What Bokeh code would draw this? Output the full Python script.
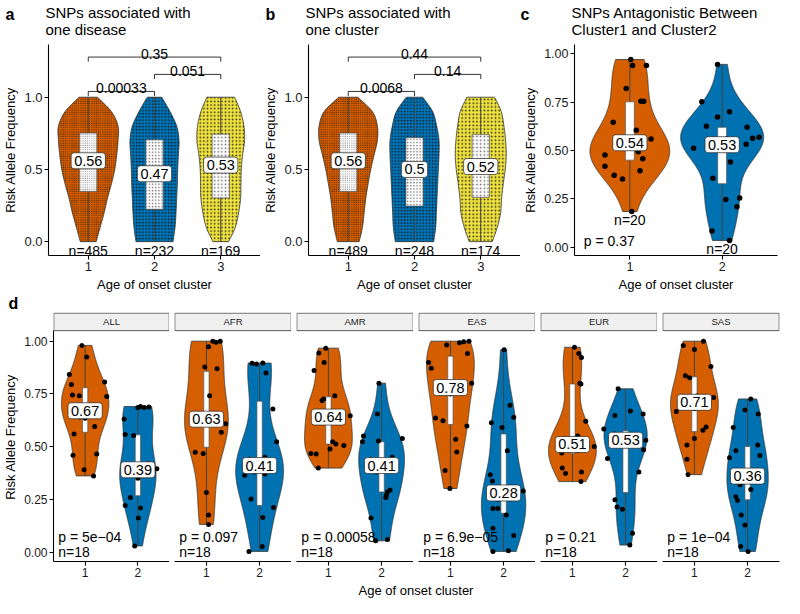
import numpy as np
from bokeh.plotting import figure
from bokeh.models import Label, Range1d, FixedTicker
from bokeh.layouts import column, row
from bokeh.embed import file_html
from bokeh.resources import INLINE

FONT = "Liberation Sans"
GROUP_COLORS = ["#D55E00", "#0072B2", "#F0E442"]
INK = "#1a1a1a"
EDGE = "#333333"

# ---------------- data: panels a / b ----------------
clusters_ab = [1, 2, 3]
cluster_tick_labels_ab = ["1", "2", "3"]
ab_levels = [0.0, 0.1, 0.2, 0.3, 0.4, 0.5, 0.6, 0.7, 0.8, 0.9, 1.0]
ab_ticks = [0.0, 0.5, 1.0]
ab_tick_labels = ["0.0", "0.5", "1.0"]

a_halfwidth_c1 = [0.12, 0.18, 0.24, 0.29, 0.35, 0.40, 0.43, 0.45, 0.45, 0.35, 0.14]
a_halfwidth_c2 = [0.28, 0.31, 0.325, 0.335, 0.345, 0.35, 0.36, 0.37, 0.335, 0.235, 0.11]
a_halfwidth_c3 = [0.12, 0.22, 0.27, 0.30, 0.305, 0.31, 0.33, 0.36, 0.35, 0.30, 0.21]
a_n = [485, 232, 169]
a_medians = ["0.56", "0.47", "0.53"]
a_box_lo = [0.348, 0.224, 0.303]
a_box_hi = [0.752, 0.705, 0.744]
a_pairs = [(1, 2), (2, 3), (1, 3)]
a_pvals = ["0.00033", "0.051", "0.35"]
a_bracket_y = [1.04, 1.158, 1.278]

b_halfwidth_c1 = [0.165, 0.215, 0.24, 0.265, 0.30, 0.34, 0.39, 0.44, 0.44, 0.365, 0.145]
b_halfwidth_c2 = [0.29, 0.32, 0.33, 0.34, 0.35, 0.36, 0.37, 0.37, 0.335, 0.275, 0.125]
b_halfwidth_c3 = [0.175, 0.25, 0.30, 0.315, 0.34, 0.37, 0.385, 0.375, 0.35, 0.31, 0.21]
b_n = [489, 248, 174]
b_medians = ["0.56", "0.5", "0.52"]
b_box_lo = [0.348, 0.246, 0.306]
b_box_hi = [0.752, 0.72, 0.741]
b_pairs = [(1, 2), (2, 3), (1, 3)]
b_pvals = ["0.0068", "0.14", "0.44"]
b_bracket_y = [1.04, 1.158, 1.278]

panel_letters = ["a", "b", "c", "d"]
panel_titles = ["SNPs associated with\none disease",
                "SNPs associated with\none cluster",
                "SNPs Antagonistic Between\nCluster1 and Cluster2"]

# ---------------- data: panel c ----------------
clusters_cd = [1, 2]
cluster_tick_labels_cd = ["1", "2"]
cd_ticks = [0.0, 0.25, 0.5, 0.75, 1.0]
cd_tick_labels = ["0.00", "0.25", "0.50", "0.75", "1.00"]

c_values_c1 = [0.971, 0.940, 0.940, 0.821, 0.755, 0.755, 0.646, 0.605, 0.560, 0.494,
               0.476, 0.457, 0.418, 0.395, 0.372, 0.352, 0.184, 0.52, 0.53, 0.55]
c_jitter_c1 = [0.01, 0.03, 0.18, -0.04, 0.12, 0.15, -0.18, 0.07, 0.23, 0.09,
               -0.27, 0.14, -0.27, 0.11, -0.17, -0.08, 0.02, -0.05, 0.05, 0.0]
c_values_c2 = [0.946, 0.752, 0.674, 0.700, 0.625, 0.620, 0.511, 0.532, 0.564, 0.569,
               0.440, 0.356, 0.246, 0.254, 0.209, 0.083, 0.034, 0.525, 0.535, 0.56]
c_jitter_c2 = [-0.05, -0.22, -0.05, 0.08, -0.17, 0.27, -0.31, 0.26, 0.33, 0.40,
               0.09, -0.10, 0.04, 0.19, 0.16, -0.11, 0.08, 0.0, -0.05, 0.05]
c_n = [20, 20]
c_medians = ["0.54", "0.53"]
c_box_lo = [0.45, 0.328]
c_box_hi = [0.752, 0.62]
c_pval = "p = 0.37"

# ---------------- data: panel d ----------------
facet_names = ["ALL", "AFR", "AMR", "EAS", "EUR", "SAS"]
facet_pvals = ["p = 5e\u221204", "p = 0.097", "p = 0.00058", "p = 6.9e\u221205", "p = 0.21", "p = 1e\u221204"]
facet_n = [18, 18, 18, 18, 18, 18]

all_c1_values = [0.98, 0.925, 0.842, 0.794, 0.745, 0.741, 0.806, 0.738, 0.56, 0.595, 0.459, 0.465, 0.39, 0.361, 0.635, 0.64, 0.655, 0.685]
all_c1_jitter = [-0.06, 0.03, -0.30, -0.26, -0.24, -0.11, 0.37, 0.41, -0.21, 0.18, -0.23, 0.22, -0.02, 0.16, 0.0, -0.1, 0.1, 0.05]
all_c2_values = [0.685, 0.685, 0.688, 0.631, 0.557, 0.553, 0.395, 0.258, 0.221, 0.209, 0.161, 0.029, 0.35, 0.37, 0.385, 0.385, 0.42, 0.69]
all_c2_jitter = [0.0, 0.12, 0.21, -0.26, -0.24, -0.08, 0.36, -0.14, -0.24, 0.05, 0.01, -0.06, 0.0, -0.1, 0.1, -0.2, 0.2, 0.05]
afr_c1_values = [1.0, 1.0, 0.974, 0.877, 0.869, 0.741, 0.608, 0.568, 0.473, 0.467, 0.282, 0.176, 0.131, 0.615, 0.625, 0.64, 0.65, 0.995]
afr_c1_jitter = [0.12, 0.26, 0.04, -0.03, 0.20, 0.06, 0.36, 0.28, -0.21, -0.06, 0.0, 0.04, 0.04, -0.1, 0.1, -0.2, 0.2, 0.18]
afr_c2_values = [0.895, 0.892, 0.896, 0.849, 0.678, 0.523, 0.364, 0.251, 0.211, 0.164, 0.026, 0.003, 0.37, 0.38, 0.40, 0.42, 0.44, 0.45]
afr_c2_jitter = [-0.14, -0.06, 0.06, 0.12, 0.25, 0.32, -0.28, -0.16, 0.26, 0.06, 0.05, -0.20, 0.1, -0.1, 0.0, 0.2, -0.2, 0.1]
amr_c1_values = [0.967, 0.944, 0.899, 0.861, 0.741, 0.718, 0.726, 0.646, 0.523, 0.512, 0.505, 0.489, 0.467, 0.465, 0.398, 0.62, 0.63, 0.65]
amr_c1_jitter = [-0.05, -0.18, -0.08, -0.27, 0.12, -0.12, -0.09, 0.41, 0.08, 0.14, 0.29, 0.03, -0.33, -0.23, -0.19, -0.1, 0.1, 0.0]
amr_c2_values = [0.801, 0.655, 0.55, 0.523, 0.527, 0.538, 0.285, 0.294, 0.27, 0.259, 0.161, 0.053, 0.059, 0.38, 0.40, 0.42, 0.44, 0.45]
amr_c2_jitter = [-0.05, -0.08, -0.34, -0.36, -0.06, 0.39, 0.11, 0.16, 0.09, 0.08, -0.2, -0.11, 0.11, -0.1, 0.1, 0.0, -0.2, 0.2]
eas_c1_values = [1.0, 0.997, 0.992, 0.982, 0.941, 0.899, 0.872, 0.801, 0.636, 0.623, 0.598, 0.535, 0.474, 0.387, 0.301, 0.75, 0.77, 0.79]
eas_c1_jitter = [0.35, 0.25, 0.17, -0.07, 0.32, -0.41, -0.36, 0.40, -0.28, -0.14, 0.31, 0.10, 0.12, -0.10, -0.01, 0.0, -0.1, 0.1]
eas_c2_values = [0.959, 0.696, 0.613, 0.639, 0.59, 0.48, 0.367, 0.337, 0.289, 0.206, 0.206, 0.176, 0.113, 0.078, 0.003, 0.006, 0.25, 0.27]
eas_c2_jitter = [0.01, 0.12, -0.23, 0.19, -0.03, 0.07, -0.25, -0.21, 0.37, -0.2, -0.11, 0.05, -0.2, 0.19, -0.2, 0.09, -0.1, 0.1]
eur_c1_values = [0.971, 0.941, 0.922, 0.801, 0.797, 0.62, 0.5, 0.399, 0.372, 0.38, 0.334, 0.47, 0.48, 0.49, 0.50, 0.52, 0.53, 0.55]
eur_c1_jitter = [0.04, 0.12, 0.17, 0.14, 0.16, 0.25, 0.41, -0.19, -0.13, 0.17, 0.16, -0.2, 0.1, -0.05, 0.2, 0.0, -0.15, 0.1]
eur_c2_values = [0.774, 0.669, 0.648, 0.655, 0.583, 0.530, 0.443, 0.485, 0.380, 0.248, 0.214, 0.203, 0.089, 0.033, 0.52, 0.535, 0.55, 0.56]
eur_c2_jitter = [-0.14, 0.09, -0.2, 0.33, -0.41, 0.38, -0.34, 0.34, 0.25, -0.2, -0.16, -0.06, 0.13, 0.08, -0.1, 0.1, 0.0, -0.2]
sas_c1_values = [0.979, 0.96, 1.0, 0.88, 0.836, 0.827, 0.733, 0.666, 0.593, 0.578, 0.538, 0.508, 0.44, 0.367, 0.68, 0.70, 0.72, 0.74]
sas_c1_jitter = [-0.21, 0.0, 0.17, 0.31, -0.17, -0.09, 0.36, -0.34, 0.22, 0.16, 0.0, -0.14, -0.14, -0.12, 0.0, -0.1, 0.1, 0.05]
sas_c2_values = [0.726, 0.673, 0.654, 0.590, 0.480, 0.508, 0.458, 0.447, 0.319, 0.297, 0.262, 0.244, 0.176, 0.128, 0.026, 0.003, 0.35, 0.37]
sas_c2_jitter = [0.06, -0.05, 0.2, -0.27, -0.22, 0.19, 0.23, -0.34, -0.14, 0.06, -0.22, -0.19, -0.12, -0.05, -0.13, 0.01, 0.0, 0.1]

facet_medians = [["0.67", "0.39"], ["0.63", "0.41"], ["0.64", "0.41"],
                 ["0.78", "0.28"], ["0.51", "0.53"], ["0.71", "0.36"]]
facet_box_lo = [[0.568, 0.267], [0.497, 0.221], [0.512, 0.285],
                [0.605, 0.184], [0.467, 0.282], [0.571, 0.248]]
facet_box_hi = [[0.779, 0.556], [0.857, 0.715], [0.736, 0.523],
                [0.929, 0.56], [0.797, 0.575], [0.831, 0.5]]

facet_values = [(all_c1_values, all_c2_values), (afr_c1_values, afr_c2_values),
                (amr_c1_values, amr_c2_values), (eas_c1_values, eas_c2_values),
                (eur_c1_values, eur_c2_values), (sas_c1_values, sas_c2_values)]
facet_jitter = [(all_c1_jitter, all_c2_jitter), (afr_c1_jitter, afr_c2_jitter),
                (amr_c1_jitter, amr_c2_jitter), (eas_c1_jitter, eas_c2_jitter),
                (eur_c1_jitter, eur_c2_jitter), (sas_c1_jitter, sas_c2_jitter)]

Y_LABEL = "Risk Allele Frequency"
X_LABEL = "Age of onset cluster"

# ---------------- layout sizes (pixels) ----------------
TOTAL_W = 784
HEAD_H = 38
TOP_H = 256
MID_H = 18
FOOT_H = 16
FACET_H = 598 - HEAD_H - TOP_H - MID_H - FOOT_H


# ---------------- helpers ----------------
def smooth_profile(levels, hw, k=10):
    y = np.asarray(levels, float)
    w = np.asarray(hw, float)
    P = np.concatenate([[2 * w[0] - w[1]], w, [2 * w[-1] - w[-2]]])
    out_y, out_w = [], []
    for i in range(1, len(P) - 2):
        p0, p1, p2, p3 = P[i - 1], P[i], P[i + 1], P[i + 2]
        for t in np.linspace(0, 1, k, endpoint=False):
            val = 0.5 * ((2 * p1) + (-p0 + p2) * t + (2 * p0 - 5 * p1 + 4 * p2 - p3) * t ** 2
                         + (-p0 + 3 * p1 - 3 * p2 + p3) * t ** 3)
            out_y.append(y[i - 1] + (y[i] - y[i - 1]) * t)
            out_w.append(val)
    out_y.append(y[-1])
    out_w.append(w[-1])
    return np.array(out_y), np.clip(np.array(out_w), 0.0, None)


def kde_profile(vals):
    v = np.asarray(vals, float)
    n = v.size
    sd = v.std(ddof=1)
    q75, q25 = np.percentile(v, [75, 25])
    lo = min(sd, (q75 - q25) / 1.34)
    if lo <= 0:
        lo = sd
    bw = 0.9 * lo * n ** -0.2
    grid = np.linspace(v.min(), v.max(), 512)
    z = (grid[:, None] - v[None, :]) / bw
    dens = np.exp(-0.5 * z * z).sum(axis=1) / (n * bw * np.sqrt(2 * np.pi))
    return grid, dens


def make_fig(width, height, xr, yr, left, right, top, bottom, y_axis=True, x_axis=True):
    kw = {}
    if not y_axis:
        kw["y_axis_location"] = None
    if not x_axis:
        kw["x_axis_location"] = None
    p = figure(width=width, height=height, x_range=Range1d(*xr), y_range=Range1d(*yr),
               output_backend="svg", toolbar_location=None, title=None,
               min_border_left=left, min_border_right=right,
               min_border_top=top, min_border_bottom=bottom, **kw)
    p.grid.visible = False
    p.outline_line_color = None
    p.background_fill_color = "white"
    p.border_fill_color = "white"
    for ax in p.axis:
        ax.axis_line_color = "black"
        ax.axis_line_width = 1.1
        ax.major_tick_line_color = "black"
        ax.major_tick_line_width = 1.1
        ax.major_tick_out = 4
        ax.major_tick_in = 0
        ax.minor_tick_line_color = None
        ax.major_label_text_font = FONT
        ax.major_label_text_color = INK
        ax.major_label_standoff = 2
        ax.axis_label_text_font = FONT
        ax.axis_label_text_font_style = "normal"
        ax.axis_label_text_color = "black"
        ax.axis_label_standoff = 3
    return p


def set_ticks(axis, ticks, labels, size):
    axis.ticker = FixedTicker(ticks=list(ticks))
    axis.major_label_overrides = {t: l for t, l in zip(ticks, labels)}
    axis.major_label_text_font_size = size


def add_text(p, x, y, text, size="14px", align="center", baseline="middle", xo=0, yo=0,
             style="normal", color="black", **kw):
    p.add_layout(Label(x=x, y=y, text=text, x_offset=xo, y_offset=yo,
                       text_font=FONT, text_font_size=size, text_font_style=style,
                       text_color=color, text_align=align, text_baseline=baseline, **kw))


def add_median_label(p, x, text):
    p.add_layout(Label(x=x, y=float(text), text=text, text_font=FONT, text_font_size="14.5px",
                       text_color="black", text_align="center", text_baseline="middle",
                       background_fill_color="white", border_line_color="#222222",
                       border_line_width=0.7, padding=3, border_radius=3))


# ---------------- header with titles ----------------
header = make_fig(TOTAL_W, HEAD_H, (0, TOTAL_W), (HEAD_H, 0), 0, 0, 0, 0, y_axis=False, x_axis=False)
letter_x = [5, 265, 520]
title_x = [45, 305, 571]
for k in range(3):
    add_text(header, letter_x[k], 14, panel_letters[k], size="16px", align="left", style="bold")
    add_text(header, title_x[k], 3, panel_titles[k], size="15px", align="left", baseline="top",
             text_line_height=1.05)

# ---------------- panels a / b ----------------
AB_W = 260
AB_L, AB_R, AB_T, AB_B = 45, 0, 2, 34
AB_X = (0.4, 3.6)
AB_Y = (-0.096, 1.365)


def panel_ab(halfwidths, n, medians, box_lo, box_hi, pairs, pvals, bracket_y):
    p = make_fig(AB_W, TOP_H, AB_X, AB_Y, AB_L, AB_R, AB_T, AB_B)
    set_ticks(p.xaxis[0], clusters_ab, cluster_tick_labels_ab, "13px")
    set_ticks(p.yaxis[0], ab_ticks, ab_tick_labels, "13px")
    p.xaxis[0].axis_label = X_LABEL
    p.yaxis[0].axis_label = Y_LABEL
    p.xaxis[0].axis_label_text_font_size = "13px"
    p.yaxis[0].axis_label_text_font_size = "13px"
    px_x = (AB_W - AB_L - AB_R) / (AB_X[1] - AB_X[0])
    px_y = (TOP_H - AB_T - AB_B) / (AB_Y[1] - AB_Y[0])
    for k, c in enumerate(clusters_ab):
        ys, ws = smooth_profile(ab_levels, halfwidths[k])
        xs = np.concatenate([c + ws, (c - ws)[::-1]])
        yy = np.concatenate([ys, ys[::-1]])
        area_px = float(np.sum((ws[1:] + ws[:-1]) * np.diff(ys))) * px_x * px_y
        spacing = np.sqrt(area_px / n[k])
        scale = round(max(2.0, spacing * 0.6), 1)
        p.patch(xs, yy, fill_color=GROUP_COLORS[k], line_color=EDGE, line_width=0.8,
                hatch_pattern="dot", hatch_color="black", hatch_scale=scale,
                hatch_weight=0.3, hatch_alpha=0.8)
        p.segment(x0=c, y0=ys[0], x1=c, y1=ys[-1], line_color="#444444", line_width=1)
        p.quad(left=c - 0.13, right=c + 0.13, bottom=box_lo[k], top=box_hi[k],
               fill_color="white", line_color="#555555", line_width=0.7,
               hatch_pattern="dot", hatch_color="black", hatch_scale=scale,
               hatch_weight=0.3, hatch_alpha=0.55)
        add_median_label(p, c, medians[k])
        add_text(p, c, ys[0], "n=%d" % n[k], baseline="top", yo=-1)
    tip = 0.032
    for (i, j), pv, yb in zip(pairs, pvals, bracket_y):
        p.multi_line(xs=[[i, i, j, j]], ys=[[yb - tip, yb, yb, yb - tip]],
                     line_color="black", line_width=0.8)
        add_text(p, (i + j) / 2, yb, pv, baseline="alphabetic", yo=3)
    return p


fig_a = panel_ab([a_halfwidth_c1, a_halfwidth_c2, a_halfwidth_c3], a_n, a_medians,
                 a_box_lo, a_box_hi, a_pairs, a_pvals, a_bracket_y)
fig_b = panel_ab([b_halfwidth_c1, b_halfwidth_c2, b_halfwidth_c3], b_n, b_medians,
                 b_box_lo, b_box_hi, b_pairs, b_pvals, b_bracket_y)

# ---------------- panel c ----------------
C_X = (0.4, 2.6)
C_Y = (-0.044, 1.049)
fig_c = make_fig(TOTAL_W - 2 * AB_W, TOP_H, C_X, C_Y, 53, 7, AB_T + 4, AB_B)
set_ticks(fig_c.xaxis[0], clusters_cd, cluster_tick_labels_cd, "12.5px")
set_ticks(fig_c.yaxis[0], cd_ticks, cd_tick_labels, "12.5px")
fig_c.xaxis[0].axis_label = X_LABEL
fig_c.yaxis[0].axis_label = Y_LABEL
fig_c.xaxis[0].axis_label_text_font_size = "13px"
fig_c.yaxis[0].axis_label_text_font_size = "13px"

c_vals = [c_values_c1, c_values_c2]
c_jits = [c_jitter_c1, c_jitter_c2]
c_prof = [kde_profile(v) for v in c_vals]
c_max = max(d.max() for _, d in c_prof)
for k, cl in enumerate(clusters_cd):
    g, d = c_prof[k]
    w = 0.45 * d / c_max
    fig_c.patch(np.concatenate([cl + w, (cl - w)[::-1]]), np.concatenate([g, g[::-1]]),
                fill_color=GROUP_COLORS[k], line_color=EDGE, line_width=0.8)
    fig_c.segment(x0=cl, y0=g[0], x1=cl, y1=g[-1], line_color="#444444", line_width=1)
    fig_c.quad(left=cl - 0.048, right=cl + 0.048, bottom=c_box_lo[k], top=c_box_hi[k],
               fill_color="white", line_color="#555555", line_width=0.7)
    fig_c.scatter(x=cl + np.array(c_jits[k]), y=c_vals[k], size=5.5,
                  fill_color="black", line_color=None)
    add_median_label(fig_c, cl, c_medians[k])
    add_text(fig_c, cl, min(c_vals[k]), "n=%d" % c_n[k], baseline="top", yo=-1)
add_text(fig_c, 0.5, 0.033, c_pval, align="left")

# ---------------- letter d ----------------
mid = make_fig(TOTAL_W, MID_H, (0, TOTAL_W), (0, MID_H), 0, 0, 0, 0, y_axis=False, x_axis=False)
add_text(mid, 8, MID_H / 2, panel_letters[3], size="16px", align="left", baseline="middle", style="bold")

# ---------------- panel d ----------------
D_X = (0.4, 2.6)
D_PANEL_TOP = 1.05
D_STRIP = 0.086
D_Y = (-0.045, D_PANEL_TOP + D_STRIP)
D_T, D_B = 0, 21

d_prof = [[kde_profile(v) for v in pair] for pair in facet_values]

facet_figs = []
for f, name in enumerate(facet_names):
    first = f == 0
    last = f == len(facet_names) - 1
    width = 169 if first else (127 if last else 122)
    left = 52 if first else 5
    right = 5 if last else 0
    p = make_fig(width, FACET_H, D_X, D_Y, left, right, D_T, D_B, y_axis=first)
    set_ticks(p.xaxis[0], clusters_cd, cluster_tick_labels_cd, "12px")
    if first:
        set_ticks(p.yaxis[0], cd_ticks, cd_tick_labels, "12px")
        p.yaxis[0].bounds = (D_Y[0], D_PANEL_TOP)
        p.yaxis[0].axis_label = Y_LABEL
        p.yaxis[0].axis_label_text_font_size = "13px"
    # strip
    p.quad(left=D_X[0] + 0.006, right=D_X[1] - 0.006, bottom=D_PANEL_TOP,
           top=D_Y[1] - 0.003, fill_color="#f0f0f0", line_color="#333333", line_width=0.8)
    add_text(p, (D_X[0] + D_X[1]) / 2, D_PANEL_TOP + D_STRIP / 2, name, size="9.5px", color=INK)
    f_max = max(d.max() for _, d in d_prof[f])
    for k, cl in enumerate(clusters_cd):
        g, d = d_prof[f][k]
        w = 0.45 * d / f_max
        vals = facet_values[f][k]
        p.patch(np.concatenate([cl + w, (cl - w)[::-1]]), np.concatenate([g, g[::-1]]),
                fill_color=GROUP_COLORS[k], line_color=EDGE, line_width=0.8)
        p.segment(x0=cl, y0=g[0], x1=cl, y1=g[-1], line_color="#444444", line_width=1)
        p.quad(left=cl - 0.05, right=cl + 0.05, bottom=facet_box_lo[f][k], top=facet_box_hi[f][k],
               fill_color="white", line_color="#555555", line_width=0.7)
        p.scatter(x=cl + np.array(facet_jitter[f][k]), y=vals, size=5,
                  fill_color="black", line_color=None)
        add_median_label(p, cl, facet_medians[f][k])
    add_text(p, 0.49, 0.069, facet_pvals[f], align="left")
    add_text(p, 0.49, 0.0, "n=%d" % facet_n[f], align="left")
    facet_figs.append(p)

footer = make_fig(TOTAL_W, FOOT_H, (0, TOTAL_W), (0, FOOT_H), 0, 0, 0, 0, y_axis=False, x_axis=False)
add_text(footer, 52 + (779 - 52) / 2, 8, X_LABEL, size="13px")

layout = column(header, row(fig_a, fig_b, fig_c), mid, row(*facet_figs), footer)
open("out.html", "w").write(file_html(layout, INLINE))
